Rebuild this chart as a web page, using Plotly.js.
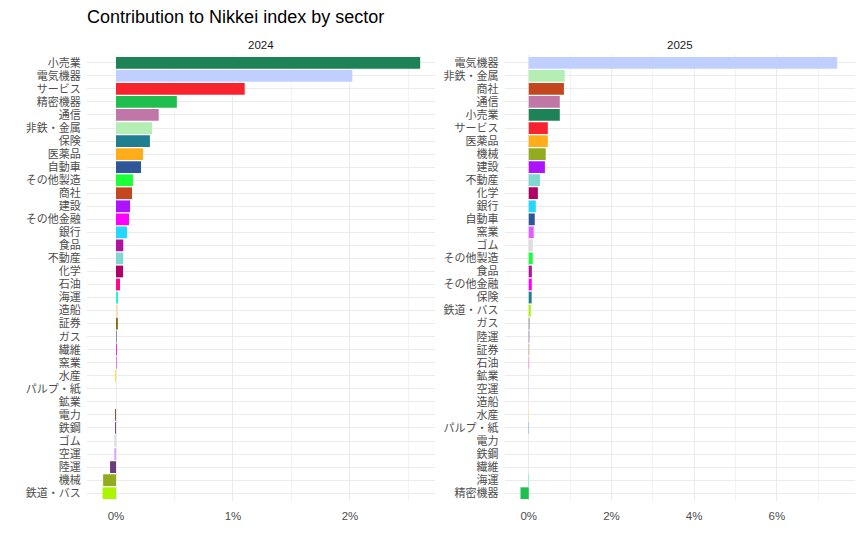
<!DOCTYPE html>
<html>
<head>
<meta charset="utf-8">
<script src="https://cdn.plot.ly/plotly-3.0.1.min.js"></script>
<style>html,body{margin:0;padding:0;background:#fff;}#chart{width:862px;height:546px;}</style>
</head>
<body>
<div id="chart"></div>
<script>
// 2024 panel (top to bottom)
var cats2024 = ['小売業','電気機器','サービス','精密機器','通信','非鉄・金属','保険','医薬品','自動車','その他製造','商社','建設','その他金融','銀行','食品','不動産','化学','石油','海運','造船','証券','ガス','繊維','窯業','水産','パルプ・紙','鉱業','電力','鉄鋼','ゴム','空運','陸運','機械','鉄道・バス'];
var vals2024 = [2.60,2.02,1.10,0.52,0.365,0.308,0.29,0.231,0.214,0.145,0.137,0.12,0.111,0.094,0.062,0.061,0.06,0.034,0.017,0.016,0.016,0.005,0.008,0.007,-0.008,0,0,-0.007,-0.008,-0.015,-0.015,-0.051,-0.11,-0.115];

// 2025 panel (top to bottom)
var cats2025 = ['電気機器','非鉄・金属','商社','通信','小売業','サービス','医薬品','機械','建設','不動産','化学','銀行','自動車','窯業','ゴム','その他製造','食品','その他金融','保険','鉄道・バス','ガス','陸運','証券','石油','鉱業','空運','造船','水産','パルプ・紙','電力','鉄鋼','繊維','海運','精密機器'];
var vals2025 = [7.46,0.87,0.85,0.75,0.75,0.46,0.46,0.41,0.39,0.27,0.22,0.17,0.145,0.12,0.097,0.095,0.075,0.073,0.07,0.05,0.015,0.012,0.01,0.008,0.006,0.005,-0.005,-0.006,-0.008,0,0,0,-0.01,-0.2];

var panelTitles = ['2024','2025'];

// sector colours
var sectorColors = {
  '小売業':'#1e8257','電気機器':'#bfcfff','サービス':'#f8232e','精密機器':'#1fbf4f','通信':'#c077a7',
  '非鉄・金属':'#b5eeb5','保険':'#1f7f8f','医薬品':'#ffae1a','自動車':'#2f5797','その他製造':'#1aff3a',
  '商社':'#c4461f','建設':'#ae13ff','その他金融':'#ff00ff','銀行':'#22d8ff','食品':'#b0149f',
  '不動産':'#7fd7d1','化学':'#b00068','石油':'#ff0a8a','海運':'#22f5d8','造船':'#f5deaa',
  '証券':'#8b6914','ガス':'#555555','繊維':'#ff22cc','窯業':'#e060ff','水産':'#ffe030',
  'パルプ・紙':'#3a80ff','鉱業':'#f0a0a0','電力':'#7f2020','鉄鋼':'#6a3aa0','ゴム':'#dddddd',
  '空運':'#dfa0ff','陸運':'#6a3a7a','機械':'#93ab1f','鉄道・バス':'#aaf500'
};

var cjk = '"Noto Sans CJK JP", "Liberation Sans", Arial, sans-serif';

var traces = [
  {type:'bar', orientation:'h', y:cats2024, x:vals2024, width:0.9,
   marker:{color:cats2024.map(function(c){return sectorColors[c];})},
   xaxis:'x', yaxis:'y', showlegend:false, hoverinfo:'x+y'},
  {type:'bar', orientation:'h', y:cats2025, x:vals2025, width:0.9,
   marker:{color:cats2025.map(function(c){return sectorColors[c];})},
   xaxis:'x2', yaxis:'y2', showlegend:false, hoverinfo:'x+y'}
];

function xax(domain, range, dtick, anchor){
  return {domain:domain, range:range, anchor:anchor, tick0:0, dtick:dtick, ticksuffix:'%',
    showgrid:true, gridcolor:'#ebebeb', gridwidth:1, zeroline:false, showline:false,
    ticks:'outside', ticklen:4, tickcolor:'rgba(0,0,0,0)',
    minor:{dtick:dtick/2, tick0:0, showgrid:true, gridcolor:'#f2f2f2', gridwidth:1},
    tickfont:{family:'"Liberation Sans", Arial, sans-serif', size:11.5, color:'#4d4d4d'}, fixedrange:true};
}
function yax(cats, anchor){
  return {type:'category', categoryorder:'array', categoryarray:cats, range:[cats.length-0.4, -0.6],
    tickmode:'array', tickvals:cats, ticktext:cats,
    anchor:anchor, domain:[0,1], showgrid:true, gridcolor:'#ebebeb', gridwidth:1, zeroline:false, showline:false,
    ticks:'outside', ticklen:3, tickcolor:'rgba(0,0,0,0)',
    tickfont:{family:cjk, size:11, color:'#4d4d4d'}, fixedrange:true};
}

var layout = {
  width:862, height:546,
  margin:{l:87, r:7, t:55, b:45},
  paper_bgcolor:'#ffffff', plot_bgcolor:'#ffffff',
  bargap:0.1,
  title:{text:'Contribution to Nikkei index by sector', x:0.101, xanchor:'left', xref:'container',
    y:1-17/546, yanchor:'middle', yref:'container',
    font:{family:'"Liberation Sans", Arial, sans-serif', size:18, color:'#000000'}},
  xaxis: xax([0, 0.453], [-0.248, 2.726], 1, 'y'),
  yaxis: yax(cats2024, 'x'),
  xaxis2: xax([0.544, 1], [-0.58, 7.89], 2, 'y2'),
  yaxis2: yax(cats2025, 'x2'),
  annotations:[
    {text:panelTitles[0], xref:'x domain', yref:'paper', x:0.5, y:1, yshift:10, showarrow:false,
     xanchor:'center', yanchor:'middle', font:{family:'"Liberation Sans", Arial, sans-serif', size:11.5, color:'#1a1a1a'}},
    {text:panelTitles[1], xref:'x2 domain', yref:'paper', x:0.5, y:1, yshift:10, showarrow:false,
     xanchor:'center', yanchor:'middle', font:{family:'"Liberation Sans", Arial, sans-serif', size:11.5, color:'#1a1a1a'}}
  ]
};

Plotly.newPlot('chart', traces, layout, {displayModeBar:false, staticPlot:true});
</script>
</body>
</html>
